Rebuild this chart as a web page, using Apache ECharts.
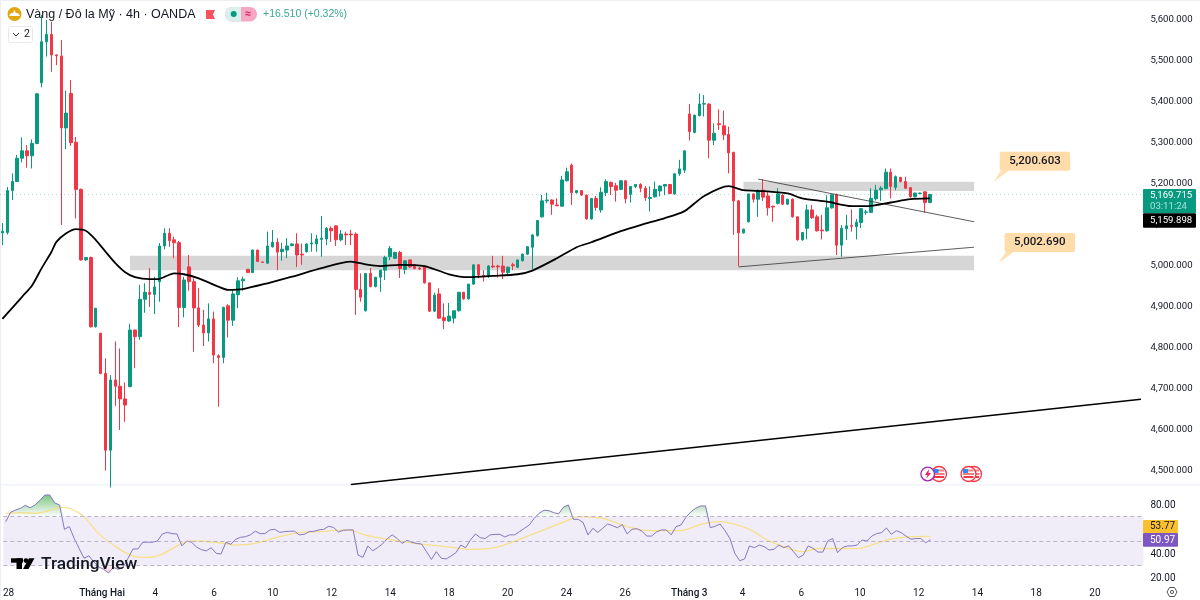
<!DOCTYPE html>
<html>
<head>
<meta charset="utf-8">
<style>html,body{margin:0;padding:0;background:#fff}#chart{width:1200px;height:600px}</style>
<script src="https://cdn.jsdelivr.net/npm/echarts@6/dist/echarts.min.js"></script>
</head>
<body>
<div id="chart"></div>
<script>
// XAU/USD 4h candles
const opens = [
5076,5077,5179,5201,5258,5276,5264,5294,5442,5542,
5560,5510,5507,5332,5416,5297,5182,5010,5016,4847,
4831,4733,4546,4717,4702,4671,4701,4839,4823,4914,
4931,4926,4957,5044,5075,5059,5052,4894,4993,4957,
4893,4851,4832,4866,4776,4772,4898,4863,4925,4959,
4987,4979,5034,5005,5002,5042,5053,5030,5034,5045,
5049,5024,5030,5049,5049,5060,5061,5087,5093,5059,
5073,5073,5073,4938,4886,4977,4945,4968,4985,5018,
5014,5028,4987,5010,4998,4990,4995,4954,4885,4927,
4869,4861,4868,4886,4931,4915,4951,4998,4972,4969,
4995,4995,4995,4979,4998,4992,5008,5024,5041,5069,
5115,5154,5156,5144,5141,5203,5241,5174,5179,5168,
5110,5160,5132,5174,5199,5191,5182,5203,5170,5189,
5194,5185,5160,5164,5178,5190,5194,5171,5220,5229,
5366,5321,5362,5390,5390,5302,5342,5337,5316,5272,
5154,5076,5103,5171,5158,5180,5166,5141,5148,5168,
5146,5158,5115,5059,5087,5132,5115,5083,5081,5137,
5169,5046,5086,5094,5091,5101,5126,5126,5159,5181,
5184,5224,5187,5211,5201,5186,5164,5172,5176,5150];
const highs = [
5100,5188,5221,5266,5309,5290,5304,5417,5607,5595,
5591,5511,5546,5423,5449,5310,5184,5017,5018,4893,
4832,4770,4729,4811,4794,4711,4854,4840,4949,4953,
4990,4969,5051,5087,5087,5067,5056,4969,5022,4965,
4941,4888,4904,4884,4780,4896,4902,4935,4968,4969,
4988,5035,5035,5006,5079,5083,5063,5052,5063,5050,
5075,5050,5050,5075,5071,5117,5090,5092,5094,5083,
5079,5083,5077,4977,4977,4990,4968,4985,5020,5044,
5030,5032,5008,5011,4999,4992,4996,4955,4930,4941,
4904,4905,4886,4931,4932,4951,4998,5000,4985,4997,
5020,4998,5020,4994,5003,5010,5026,5044,5072,5107,
5168,5174,5158,5160,5215,5235,5245,5180,5180,5169,
5161,5166,5187,5207,5201,5198,5204,5204,5190,5195,
5197,5190,5189,5201,5192,5195,5195,5221,5254,5277,
5390,5364,5416,5412,5392,5343,5377,5374,5335,5274,
5156,5086,5171,5172,5182,5207,5175,5142,5185,5170,
5159,5160,5116,5078,5145,5144,5120,5120,5168,5170,
5172,5095,5120,5133,5110,5136,5132,5185,5193,5190,
5233,5233,5216,5213,5213,5188,5174,5174,5177,5171];
const lows = [
5046,5072,5156,5200,5248,5235,5233,5292,5431,5506,
5469,5485,5095,5280,5288,5111,5008,5008,4845,4845,
4731,4496,4455,4654,4595,4615,4699,4746,4815,4881,
4895,4878,4908,5036,5042,5014,4846,4870,4935,4786,
4846,4800,4811,4758,4652,4758,4821,4849,4892,4935,
4978,4978,5005,5003,5000,5040,4985,5008,5014,5043,
4993,4998,5028,5030,5030,5018,5046,5054,5044,5055,
5046,5046,4876,4908,4884,4943,4943,4932,4961,5010,
5012,4966,4975,4990,4987,4985,4952,4883,4883,4866,
4841,4859,4855,4884,4913,4913,4949,4965,4957,4966,
4990,4967,4963,4975,4985,4990,5006,5022,4987,5067,
5113,5148,5120,5141,5139,5201,5144,5172,5166,5108,
5108,5130,5125,5166,5168,5152,5180,5148,5150,5185,
5175,5154,5128,5162,5165,5168,5170,5169,5215,5222,
5301,5319,5360,5360,5258,5290,5327,5302,5221,5071,
4995,5074,5101,5150,5115,5154,5118,5103,5145,5144,
5144,5113,5057,5057,5060,5110,5079,5060,5079,5135,
5022,5018,5059,5079,5060,5088,5120,5124,5155,5154,
5182,5160,5180,5199,5183,5162,5162,5170,5125,5148];
const closes = [
5080,5179,5201,5258,5276,5264,5294,5415,5542,5560,
5510,5508,5332,5368,5296,5182,5010,5016,4847,4892,
4733,4546,4717,4702,4671,4656,4839,4823,4914,4931,
4926,4944,5044,5075,5057,5052,4894,4961,4957,4893,
4851,4832,4866,4778,4772,4894,4863,4927,4959,4963,
4979,5034,5006,5004,5044,5053,5029,5036,5044,5049,
5022,5022,5049,5051,5061,5063,5087,5081,5059,5073,
5071,5071,4938,4919,4977,4945,4968,4985,5016,5038,
5028,4989,5008,4993,4989,4988,4954,4885,4924,4868,
4862,4873,4886,4931,4915,4951,4998,4973,4970,4995,
4993,4993,4980,4992,4996,5010,5024,5042,5071,5106,
5154,5156,5146,5142,5205,5225,5174,5179,5168,5110,
5160,5138,5175,5201,5189,5180,5203,5159,5189,5194,
5185,5162,5162,5182,5190,5194,5172,5220,5232,5276,
5323,5363,5390,5391,5302,5319,5340,5315,5271,5154,
5076,5085,5171,5158,5179,5163,5137,5139,5171,5146,
5158,5115,5059,5077,5132,5113,5081,5081,5137,5169,
5046,5087,5093,5092,5102,5135,5127,5160,5180,5185,
5224,5189,5213,5201,5185,5164,5173,5173,5150,5169.715];

// Moving average over the candles, read at the bar indexes listed
const maBars = [0,2,4,6,8,10,11,13,15,17,19,21,23,25,27,30,32,35,37,40,44,46,49,54,59,65,71,74,77,81,86,91,95,100,105,108,113,117,120,126,130,135,139,143,148,151,155,160,163,168,173,176,181,185,189];
const maVals = [4866,4893,4920,4947,4990,5030,5054,5075,5085,5081,5059,5030,5002,4980,4968,4963,4964,4977,4975,4965,4945,4937,4939,4953,4969,4990,5006,4999,4995,4998,4995,4975,4968,4971,4975,4984,5014,5041,5053,5080,5095,5112,5129,5166,5190,5180,5178,5172,5160,5152,5141,5141,5150,5158,5159.898];

// RSI, one value per bar
const rsi = [
65.7,73.3,75.2,76.5,79,77,79.3,83,87.4,87.4,
81,79.3,59.5,61.7,52,44,36,38,33,29,
27,24,28.5,27,28.6,36,43.5,43.5,49,49,
49,50,55.7,57,56,55.7,46,50,49,45,
43,42,44.6,40,39.4,49,47.3,51.4,53,53.5,
55,58,56,56,59,59.5,57,57.6,57.9,58,
55,55.4,57.6,57.9,59,59.5,62,61,57.3,58.7,
59,59,38.6,36.7,46,42,44.6,47.6,52,55,
52,48,50.5,49,48,47.5,41.3,35,41.3,36,
35.4,37.8,40.5,46.7,44.6,51,55.7,52.7,52,55,
55.4,55.4,53.3,55,55,57.6,60.3,63,68.4,72.5,
75,74.7,73,72,77.6,79.3,67.6,67.6,65,55,
60.3,57,60.3,63.8,62.5,60.8,63.3,55.7,59.5,60,
58,54,54,57.3,59,59,55,61.7,63,69.2,
73.6,76.6,78.5,78.5,60.8,62,63.8,58.4,52,40,
34,35.4,46,44.6,46.7,45.4,42.7,43.2,46.7,44.6,
46,41.3,36.4,38.6,46,44,41,41,50,52,
40.5,44.6,46,46,46.7,50.8,50,54,56,56.8,
60.6,55.4,58.4,56.8,54,51.4,52,52,48.6,50.97];

// RSI moving average, read at the bar indexes listed
const rsiMaBars = [0,3,6,9,11,13,16,19,23,26,29,32,36,38,43,47,51,56,60,64,70,74,81,85,90,95,100,105,110,115,117,122,127,131,138,142,146,152,156,163,166,174,180,185,189];
const rsiMaVals = [72.5,73,72.5,74.7,77.4,76.6,69.8,56,44,37.8,36.7,39.4,48,50,49,46.7,48,53.5,56.8,57.6,59,54.3,49.5,47.5,45.4,43.2,44.6,51.4,59,67,69.8,68.4,61.7,58.4,58.4,63.5,65.7,59.5,50,41.3,44,43.8,50.8,53.5,53.77];

// Axis ticks and labels
const priceTicks = [4500,4600,4700,4800,4900,5000,5100,5200,5300,5400,5500,5600];
const rsiTicks = [20,40,80];
const timeBars = [1,20,31,43,55,67,79,91,103,115,127,140,151,163,175,187,199,211,223];
const timeText = ['28','Tháng Hai','4','6','10','12','14','18','20','24','26','Tháng 3','4','6','10','12','14','18','20'];

// Drawn levels
const zoneBars = [[151,198],[26,198]];
const zonePrices = [[5200.603,5178],[5020,4985]];
const trendBars = [[71,232],[154,198],[150,198]];
const trendPrices = [[4462,4670],[5207,5103],[4993,5041]];
const noteBars = [202,203];
const notePrices = [5200.603,5002.690];

const lastPrice = 5169.715;
const lastMa = 5159.898;
const countdown = '03:11:24';
const rsiLast = 50.97;
const rsiMaLast = 53.77;
const title = 'Vàng / Đô la Mỹ · 4h · OANDA';
const change = '+16.510 (+0.32%)';

const UP = '#089981', DOWN = '#f23645', INK = '#131722';
const FONT = 'Roboto, sans-serif';
const money = v => v.toLocaleString('en-US', {minimumFractionDigits: 3, maximumFractionDigits: 3});

const barCount = 233;
const bars = Array.from({length: barCount}, (_, i) => String(i));
const candles = opens.map((o, i) => [o, closes[i], lows[i], highs[i]]);

const zoneData = zoneBars.map((b, k) => [
  {xAxis: b[0], yAxis: zonePrices[k][0]},
  {xAxis: b[1], yAxis: zonePrices[k][1]}
]);

const trendSeries = trendBars.map((b, k) => ({
  type: 'line', xAxisIndex: 0, yAxisIndex: 0, symbol: 'none', silent: true, z: 4,
  lineStyle: {color: k === 0 ? '#000' : '#333', width: k === 0 ? 1.5 : 0.8},
  data: [[b[0], trendPrices[k][0]], [b[1], trendPrices[k][1]]]
}));

// Speech-bubble note anchored at a bar and price
const renderNote = (params, api) => {
  const p = api.coord([api.value(0), api.value(1)]);
  const rx = p[0] + 6, ry = p[1] - 30, w = 70.5, h = 19;
  return {type: 'group', children: [
    {type: 'polygon', shape: {points: [[p[0], p[1]], [rx + 1, ry + h], [rx + 9, ry + h]]}, style: {fill: '#ffe0b2'}},
    {type: 'rect', shape: {x: rx, y: ry, width: w, height: h, r: 2}, style: {fill: '#ffdcaa'}},
    {type: 'text', style: {text: money(api.value(1)), x: rx + w / 2, y: ry + h / 2, align: 'center', verticalAlign: 'middle',
      fill: INK, font: '500 11.5px ' + FONT}}
  ]};
};

const tag = (x, y, w, h, fill) => ({type: 'rect', shape: {x, y, width: w, height: h, r: 1}, style: {fill}, z: 50});
const label = (text, x, y, fill, font, align) => ({type: 'text', z: 51, style: {text, x, y, fill, font, align: align || 'left', verticalAlign: 'middle'}});
const flagIcon = (x, y) => ({type: 'group', z: 20, children: [
  {type: 'circle', shape: {cx: x, cy: y, r: 7.5}, style: {fill: '#fff', stroke: '#f23645', lineWidth: 1.3}},
  {type: 'rect', shape: {x: x - 5.5, y: y - 1, width: 11, height: 2}, style: {fill: '#f77c80'}},
  {type: 'rect', shape: {x: x - 5, y: y + 2, width: 10, height: 2}, style: {fill: '#f23645'}},
  {type: 'rect', shape: {x: x - 1, y: y - 4.5, width: 6, height: 2}, style: {fill: '#f77c80'}},
  {type: 'rect', shape: {x: x - 5.5, y: y - 5, width: 5, height: 4}, style: {fill: '#2f8cf0'}}
]});

const graphic = [
  // frame and pane divider
  {type: 'rect', shape: {x: 0, y: 0, width: 1200, height: 1}, style: {fill: '#eceef2'}},
  {type: 'rect', shape: {x: 0, y: 0, width: 1, height: 600}, style: {fill: '#eceef2'}},
  {type: 'rect', shape: {x: 0, y: 484, width: 1200, height: 1.5}, style: {fill: '#f0f3fa'}},

  // symbol header
  {type: 'circle', z: 50, shape: {cx: 14.5, cy: 14, r: 7}, style: {fill: '#e0a70f'}},
  {type: 'polygon', z: 51, shape: {points: [[9, 16], [20, 16], [18, 13], [16, 13], [14.5, 10], [13, 13], [11, 13]]}, style: {fill: '#fff'}},
  label(title, 26, 14.5, INK, '12.5px "Liberation Sans", sans-serif'),
  {type: 'polygon', z: 50, shape: {points: [[206, 10], [215, 10], [213, 14.5], [215, 19], [206, 19]]}, style: {fill: '#f7525f'}},
  {type: 'rect', z: 50, shape: {x: 225, y: 7, width: 32, height: 14.5, r: 7}, style: {fill: '#f5a8c4'}},
  {type: 'rect', z: 50, shape: {x: 225, y: 7, width: 16, height: 14.5, r: [7, 0, 0, 7]}, style: {fill: '#d9f0ed'}},
  {type: 'circle', z: 51, shape: {cx: 233.7, cy: 14, r: 3}, style: {fill: UP}},
  label('≈', 248, 14, '#d81b60', 'bold 11px ' + FONT, 'center'),
  label(change, 263, 14.5, '#3aa893', '10.5px "Liberation Sans", sans-serif'),

  // collapsed indicators toggle
  {type: 'rect', z: 50, shape: {x: 8.5, y: 26.5, width: 24, height: 16, r: 2}, style: {fill: '#fff', stroke: '#e6e8ee', lineWidth: 1}},
  {type: 'polyline', z: 51, shape: {points: [[13, 33], [16, 36], [19, 33]]}, style: {stroke: '#333', lineWidth: 1, fill: 'none'}},
  label('2', 24, 34.5, INK, '10.5px ' + FONT),

  // economic event markers
  {type: 'circle', z: 19, shape: {cx: 927.7, cy: 474, r: 6.8}, style: {fill: '#fff', stroke: '#9c27b0', lineWidth: 1.3}},
  {type: 'polygon', z: 19, shape: {points: [[929, 469], [925, 475], [927.5, 475], [926, 479], [931, 473], [928.5, 473]]}, style: {fill: '#e91e63'}},
  flagIcon(939, 474),
  flagIcon(974, 474),
  flagIcon(968.5, 474),

  // last-price tags
  tag(1143, 189, 53, 24.3, UP),
  label(money(lastPrice), 1150, 195.5, '#fff', '9.6px ' + FONT),
  label(countdown, 1150, 206.5, '#a9e0d6', '9.6px ' + FONT),
  tag(1143, 213.3, 53, 14.5, '#000'),
  label(money(lastMa), 1150, 220.8, '#fff', '9.6px ' + FONT),
  tag(1143, 520, 35, 13, '#fbc02d'),
  label(rsiMaLast.toFixed(2), 1150, 526.8, INK, '10px ' + FONT),
  tag(1143, 533, 35, 13.7, '#7e57c2'),
  label(rsiLast.toFixed(2), 1150, 540, '#fff', '10px ' + FONT),

  // wordmark
  {type: 'rect', z: 50, shape: {x: 11, y: 558.3, width: 12, height: 4.4}, style: {fill: '#000'}},
  {type: 'rect', z: 50, shape: {x: 16.5, y: 558.3, width: 5.5, height: 10.7}, style: {fill: '#000'}},
  {type: 'circle', z: 50, shape: {cx: 26, cy: 560.6, r: 2.4}, style: {fill: '#000'}},
  {type: 'polygon', z: 50, shape: {points: [[29, 558.3], [34.5, 558.3], [28.5, 569], [23, 569]]}, style: {fill: '#000'}},
  label('TradingView', 41, 564.5, '#131722', '500 17.3px ' + FONT),

  // settings glyph
  {type: 'polygon', z: 50, shape: {points: [[1167, 592], [1169.5, 587.5], [1174.5, 587.5], [1177, 592], [1174.5, 596.5], [1169.5, 596.5]]}, style: {fill: 'none', stroke: '#555', lineWidth: 1}},
  {type: 'circle', z: 50, shape: {cx: 1172, cy: 592, r: 1.6}, style: {fill: 'none', stroke: '#555', lineWidth: 1}}
];

const chart = echarts.init(document.getElementById('chart'), null, {renderer: 'canvas'});
chart.setOption({
  animation: false,
  backgroundColor: '#fff',
  textStyle: {fontFamily: FONT},
  grid: [
    {left: -0.65, width: 1144.03, top: 0, height: 485},
    {left: -0.65, width: 1144.03, top: 485, height: 96}
  ],
  xAxis: [
    {type: 'category', gridIndex: 0, data: bars, show: false, boundaryGap: true},
    {type: 'category', gridIndex: 1, data: bars, boundaryGap: true,
      axisLine: {show: false}, axisTick: {show: false}, splitLine: {show: false},
      axisLabel: {
        interval: 0, margin: 7, color: INK, fontSize: 10, fontFamily: FONT, hideOverlap: false,
        formatter: (v, i) => {
          const k = timeBars.indexOf(i);
          if (k < 0) return '';
          return (timeText[k].startsWith('Tháng') ? '{b|' : '{n|') + timeText[k] + '}';
        },
        rich: {
          n: {fontSize: 10, color: INK, fontFamily: FONT, padding: [0, 4, 0, 0]},
          b: {fontWeight: 500, fontSize: 10, color: INK, fontFamily: FONT, padding: [0, 3, 0, 0]}
        }
      }}
  ],
  yAxis: [
    {type: 'value', gridIndex: 0, position: 'right', min: 4461, max: 5643.9, scale: true,
      axisLine: {show: false}, axisTick: {show: false}, splitLine: {show: false},
      axisLabel: {customValues: priceTicks, margin: 7, formatter: v => '{p|' + money(v) + '}',
        rich: {p: {color: INK, fontSize: 9.6, fontFamily: FONT, padding: [3, 0, 0, 0]}}}},
    {type: 'value', gridIndex: 1, position: 'right', min: 17.5, max: 95.5, scale: true,
      axisLine: {show: false}, axisTick: {show: false}, splitLine: {show: false},
      axisLabel: {customValues: rsiTicks, margin: 7, formatter: v => '{p|' + v.toFixed(2) + '}',
        rich: {p: {color: INK, fontSize: 10, fontFamily: FONT, padding: [2, 0, 0, 0]}}}}
  ],
  series: [
    {type: 'candlestick', name: 'XAUUSD', xAxisIndex: 0, yAxisIndex: 0, barWidth: 3, silent: true, z: 3,
      itemStyle: {color: UP, color0: DOWN, borderColor: UP, borderColor0: DOWN, borderColorDoji: DOWN, borderWidth: 1},
      data: candles,
      markArea: {silent: true, z: 1, itemStyle: {color: '#d6d6d6'}, data: zoneData},
      markLine: {silent: true, symbol: 'none', label: {show: false}, animation: false,
        lineStyle: {color: 'rgba(8,153,129,0.32)', type: [1, 3], width: 1},
        data: [{yAxis: lastPrice}]}
    },
    {type: 'line', name: 'MA', xAxisIndex: 0, yAxisIndex: 0, symbol: 'none', smooth: 0.25, silent: true, z: 5,
      lineStyle: {color: '#000', width: 1.8},
      data: maBars.map((b, k) => [b, maVals[k]])},
    ...trendSeries,
    {type: 'custom', xAxisIndex: 0, yAxisIndex: 0, renderItem: renderNote, silent: true, z: 6,
      encode: {x: 0, y: 1},
      data: noteBars.map((b, k) => [b, notePrices[k]])},

    {type: 'line', name: 'RSI above band', xAxisIndex: 1, yAxisIndex: 1, symbol: 'none', silent: true, z: 2,
      lineStyle: {width: 0},
      areaStyle: {origin: 70, opacity: 1, color: {type: 'linear', x: 0, y: 494, x2: 0, y2: 517, global: true,
        colorStops: [{offset: 0, color: 'rgba(76,175,80,0.75)'}, {offset: 1, color: 'rgba(76,175,80,0)'}]}},
      data: rsi.map(v => Math.max(v, 70))},
    {type: 'line', name: 'RSI below band', xAxisIndex: 1, yAxisIndex: 1, symbol: 'none', silent: true, z: 2,
      lineStyle: {width: 0},
      areaStyle: {origin: 30, opacity: 1, color: {type: 'linear', x: 0, y: 565, x2: 0, y2: 580, global: true,
        colorStops: [{offset: 0, color: 'rgba(242,54,69,0)'}, {offset: 1, color: 'rgba(242,54,69,0.6)'}]}},
      data: rsi.map(v => Math.min(v, 30))},
    {type: 'line', name: 'RSI', xAxisIndex: 1, yAxisIndex: 1, symbol: 'none', silent: true, z: 4,
      lineStyle: {color: '#8577c0', width: 1},
      data: rsi,
      markArea: {silent: true, z: 1, itemStyle: {color: 'rgba(126,87,194,0.11)'}, data: [[{yAxis: 70}, {yAxis: 30}]]},
      markLine: {silent: true, symbol: 'none', label: {show: false}, animation: false,
        lineStyle: {color: '#b9b4cc', type: [4, 3], width: 1},
        data: [{yAxis: 70}, {yAxis: 50}, {yAxis: 30}]}
    },
    {type: 'line', name: 'RSI MA', xAxisIndex: 1, yAxisIndex: 1, symbol: 'none', smooth: 0.25, silent: true, z: 3,
      lineStyle: {color: '#f6e08a', width: 1.3},
      data: rsiMaBars.map((b, k) => [b, rsiMaVals[k]])}
  ],
  graphic: {elements: graphic}
});
</script>
</body>
</html>
